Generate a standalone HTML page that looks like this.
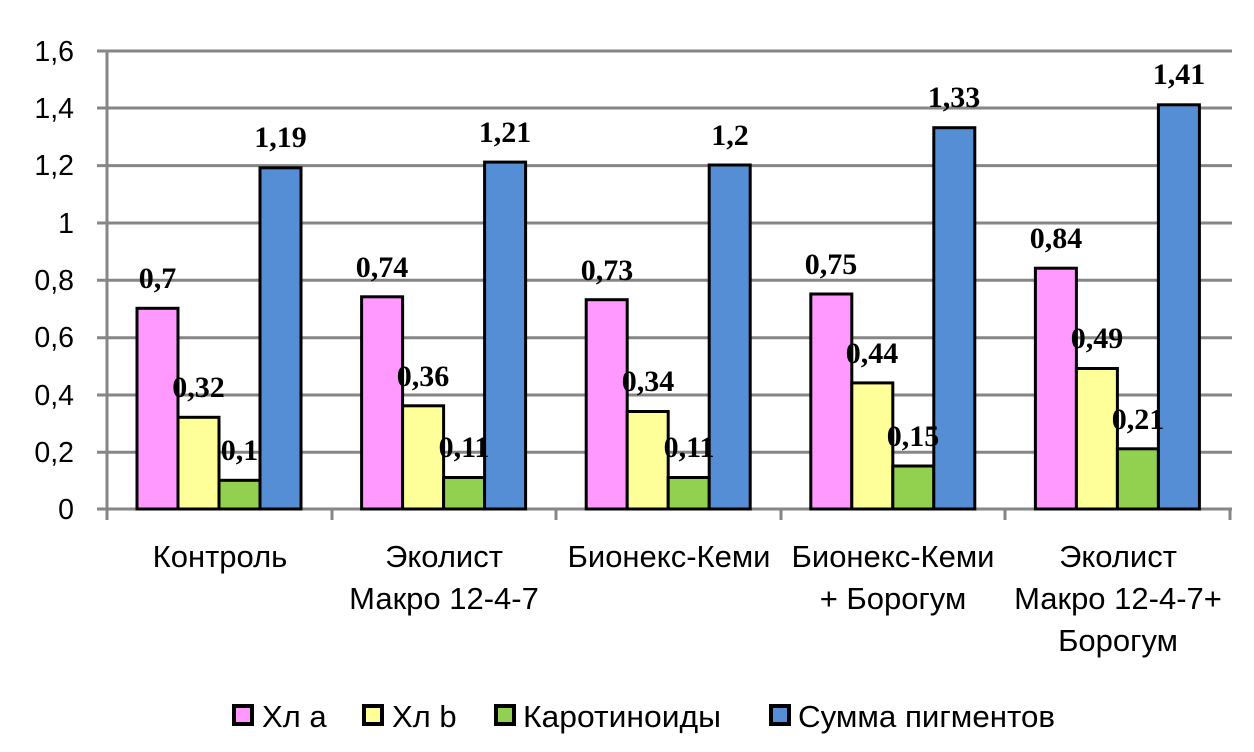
<!DOCTYPE html>
<html><head><meta charset="utf-8"><style>
html,body{margin:0;padding:0;background:#fff;}
svg text{font-family:"Liberation Sans",sans-serif;}
.v{font-family:"Liberation Serif",serif !important;font-weight:bold;font-size:30px;text-anchor:middle;fill:#000;}
.y{font-size:28.5px;text-anchor:end;fill:#000;}
.c{font-size:31px;text-anchor:middle;fill:#000;}
.l{font-size:31px;fill:#000;}
</style></head><body>
<svg width="1254" height="747" xmlns="http://www.w3.org/2000/svg">
<g stroke="#868686" stroke-width="3">
<line x1="97" y1="51" x2="1232" y2="51"/>
<line x1="97" y1="108" x2="1232" y2="108"/>
<line x1="97" y1="165.6" x2="1232" y2="165.6"/>
<line x1="97" y1="223" x2="1232" y2="223"/>
<line x1="97" y1="280.3" x2="1232" y2="280.3"/>
<line x1="97" y1="337.7" x2="1232" y2="337.7"/>
<line x1="97" y1="395" x2="1232" y2="395"/>
<line x1="97" y1="452.3" x2="1232" y2="452.3"/>
<line x1="97" y1="509" x2="1232" y2="509"/>
<line x1="107" y1="51" x2="107" y2="520"/>
<line x1="332" y1="509" x2="332" y2="520"/>
<line x1="556" y1="509" x2="556" y2="520"/>
<line x1="781" y1="509" x2="781" y2="520"/>
<line x1="1005" y1="509" x2="1005" y2="520"/>
<line x1="1230" y1="509" x2="1230" y2="520"/>
</g>
<g>
<text class="y" x="74" y="61">1,6</text>
<text class="y" x="74" y="118">1,4</text>
<text class="y" x="74" y="175">1,2</text>
<text class="y" x="74" y="233">1</text>
<text class="y" x="74" y="290">0,8</text>
<text class="y" x="74" y="347">0,6</text>
<text class="y" x="74" y="405">0,4</text>
<text class="y" x="74" y="462">0,2</text>
<text class="y" x="74" y="519">0</text>
</g>
<g stroke="#000" stroke-width="3">
<rect x="137" y="308.3" width="41" height="200.7" fill="#ff99ff"/>
<rect x="178" y="417.3" width="41" height="91.7" fill="#ffff99"/>
<rect x="219" y="480.3" width="41" height="28.7" fill="#92d050"/>
<rect x="260" y="167.8" width="41" height="341.2" fill="#558ed5"/>

<rect x="361.6" y="296.8" width="41" height="212.2" fill="#ff99ff"/>
<rect x="402.6" y="405.8" width="41" height="103.2" fill="#ffff99"/>
<rect x="443.6" y="477.5" width="41" height="31.5" fill="#92d050"/>
<rect x="484.6" y="162.1" width="41" height="346.9" fill="#558ed5"/>

<rect x="586.2" y="299.7" width="41" height="209.3" fill="#ff99ff"/>
<rect x="627.2" y="411.5" width="41" height="97.5" fill="#ffff99"/>
<rect x="668.2" y="477.5" width="41" height="31.5" fill="#92d050"/>
<rect x="709.2" y="165" width="41" height="344" fill="#558ed5"/>

<rect x="810.8" y="294" width="41" height="215" fill="#ff99ff"/>
<rect x="851.8" y="382.9" width="41" height="126.1" fill="#ffff99"/>
<rect x="892.8" y="466" width="41" height="43" fill="#92d050"/>
<rect x="933.8" y="127.7" width="41" height="381.3" fill="#558ed5"/>

<rect x="1035.4" y="268.2" width="41" height="240.8" fill="#ff99ff"/>
<rect x="1076.4" y="368.5" width="41" height="140.5" fill="#ffff99"/>
<rect x="1117.4" y="448.8" width="41" height="60.2" fill="#92d050"/>
<rect x="1158.4" y="104.8" width="41" height="404.2" fill="#558ed5"/>
</g>
<g>
<text class="v" x="157.5" y="288">0,7</text>
<text class="v" x="198.5" y="397">0,32</text>
<text class="v" x="239.5" y="460">0,1</text>
<text class="v" x="280.5" y="147">1,19</text>

<text class="v" x="382" y="277">0,74</text>
<text class="v" x="423" y="386">0,36</text>
<text class="v" x="464" y="457">0,11</text>
<text class="v" x="505" y="142">1,21</text>

<text class="v" x="607" y="280">0,73</text>
<text class="v" x="648" y="391">0,34</text>
<text class="v" x="689" y="457">0,11</text>
<text class="v" x="730" y="145">1,2</text>

<text class="v" x="831" y="274">0,75</text>
<text class="v" x="872" y="363">0,44</text>
<text class="v" x="913" y="446">0,15</text>
<text class="v" x="954" y="107">1,33</text>

<text class="v" x="1056" y="248">0,84</text>
<text class="v" x="1097" y="348">0,49</text>
<text class="v" x="1138" y="429">0,21</text>
<text class="v" x="1179" y="84">1,41</text>
</g>
<g>
<text class="c" x="220" y="567">Контроль</text>
<text class="c" x="444" y="567">Эколист</text>
<text class="c" x="444" y="609">Макро 12-4-7</text>
<text class="c" x="669" y="567">Бионекс-Кеми</text>
<text class="c" x="893" y="567">Бионекс-Кеми</text>
<text class="c" x="893" y="609">+ Борогум</text>
<text class="c" x="1118" y="567">Эколист</text>
<text class="c" x="1118" y="609">Макро 12-4-7+</text>
<text class="c" x="1118" y="651">Борогум</text>
</g>
<g stroke="#000" stroke-width="4">
<rect x="234" y="706" width="18" height="18" fill="#ff99ff"/>
<rect x="364" y="706" width="18" height="18" fill="#ffff99"/>
<rect x="496" y="706" width="18" height="18" fill="#92d050"/>
<rect x="771" y="706" width="18" height="18" fill="#558ed5"/>
</g>
<text class="l" x="262" y="727">Хл a</text>
<text class="l" x="392" y="727">Хл b</text>
<text class="l" x="523" y="727" textLength="198" lengthAdjust="spacingAndGlyphs">Каротиноиды</text>
<text class="l" x="798" y="727" textLength="257" lengthAdjust="spacingAndGlyphs">Сумма пигментов</text>
</svg>
</body></html>
